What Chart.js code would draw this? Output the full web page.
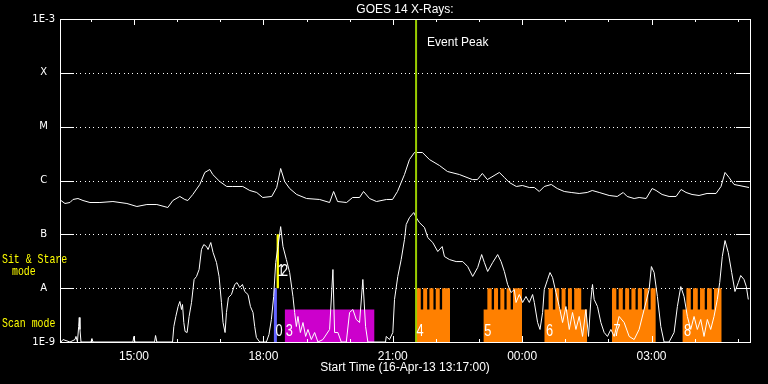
<!DOCTYPE html>
<html>
<head>
<meta charset="utf-8">
<style>
  html, body { margin: 0; padding: 0; background: #000; overflow: hidden; }
  canvas { display: block; }
</style>
<script src="https://cdn.jsdelivr.net/npm/chart.js@4/dist/chart.umd.min.js"></script>
</head>
<body>
<canvas id="c" width="768" height="384"></canvas>
<script>
// ---------- DATA ----------
const chartTitle = 'GOES 14 X-Rays:';
const xAxisTitle = 'Start Time (16-Apr-13 13:17:00)';
const timeStart = 13.2833;   // 16-Apr-13 13:17 (hours of day)
const timeEnd = 29.2833;     // 17-Apr-13 05:17

const xHourTicks = [14,15,16,17,18,19,20,21,22,23,24,25,26,27,28,29];
const xTickValues = [15, 18, 21, 24, 27];
const xTickLabels = ['15:00', '18:00', '21:00', '00:00', '03:00'];

const yTickValues = [1e-9, 1e-8, 1e-7, 1e-6, 1e-5, 1e-4, 1e-3];
const yTickLabels = ['1E-9', 'A', 'B', 'C', 'M', 'X', '1E-3'];

// GOES 1-8 A channel
const goesLongTimes = [13.306,13.399,13.515,13.584,13.700,13.816,13.978,14.209,14.511,14.835,
  15.066,15.298,15.529,15.784,15.900,16.062,16.177,16.247,16.363,16.525,
  16.641,16.757,16.826,16.988,17.150,17.289,17.521,17.683,17.845,17.984,
  18.192,18.308,18.400,18.493,18.609,18.771,19.002,19.303,19.535,19.628,
  19.720,19.929,20.068,20.230,20.322,20.461,20.623,20.855,20.994,21.109,
  21.271,21.387,21.503,21.688,21.850,22.082,22.267,22.545,22.846,22.962,
  23.077,23.193,23.471,23.587,23.703,23.865,24.004,24.166,24.282,24.397,
  24.513,24.675,24.814,24.976,25.138,25.323,25.509,25.625,25.787,26.018,
  26.204,26.343,26.435,26.597,26.713,26.875,27.014,27.106,27.245,27.407,
  27.569,27.685,27.800,27.939,28.102,28.287,28.496,28.611,28.704,28.797,
  28.913,29.028,29.144,29.260];
const goesLongFlux = [4.25e-7,3.74e-7,3.90e-7,4.44e-7,4.63e-7,4.25e-7,3.90e-7,3.90e-7,4.07e-7,3.74e-7,
  3.29e-7,3.58e-7,3.58e-7,3.15e-7,4.25e-7,5.05e-7,4.44e-7,4.25e-7,5.50e-7,8.43e-7,
  1.41e-6,1.60e-6,1.29e-6,9.58e-7,7.74e-7,7.74e-7,7.74e-7,6.52e-7,5.99e-7,4.83e-7,
  5.05e-7,7.41e-7,1.67e-6,9.58e-7,7.10e-7,5.50e-7,4.63e-7,4.44e-7,3.90e-7,6.25e-7,
  4.07e-7,3.90e-7,4.83e-7,4.83e-7,6.25e-7,4.63e-7,4.07e-7,4.44e-7,4.44e-7,6.25e-7,
  1.29e-6,2.45e-6,3.31e-6,3.31e-6,2.45e-6,1.90e-6,1.47e-6,1.29e-6,1.04e-6,1.04e-6,
  1.35e-6,1.04e-6,1.41e-6,1.14e-6,9.18e-7,7.74e-7,8.08e-7,7.41e-7,7.41e-7,6.25e-7,
  7.74e-7,8.43e-7,7.10e-7,6.25e-7,5.99e-7,5.74e-7,5.99e-7,6.52e-7,5.99e-7,5.27e-7,
  5.05e-7,5.99e-7,5.05e-7,4.63e-7,4.83e-7,4.63e-7,7.10e-7,6.52e-7,5.50e-7,5.05e-7,
  5.05e-7,6.81e-7,5.99e-7,5.50e-7,5.27e-7,5.74e-7,5.74e-7,7.74e-7,1.41e-6,1.14e-6,
  8.43e-7,8.08e-7,7.74e-7,7.41e-7];

// GOES 0.5-4 A channel
const goesShortTimes = [13.306,13.353,13.515,13.631,13.654,13.688,13.716,13.730,13.746,13.770,
  14.001,14.024,14.047,14.974,14.997,15.020,15.476,15.499,15.529,15.893,
  15.923,15.969,16.022,16.062,16.101,16.124,16.154,16.184,16.231,16.277,
  16.333,16.393,16.449,16.509,16.564,16.618,16.680,16.717,16.780,16.833,
  16.912,16.972,17.027,17.064,17.111,17.143,17.189,17.259,17.335,17.389,
  17.451,17.514,17.567,17.643,17.699,17.759,17.798,17.838,17.914,18.069,
  18.129,18.185,18.238,18.285,18.338,18.400,18.454,18.532,18.609,18.685,
  18.724,18.764,18.801,18.857,18.917,18.979,19.033,19.111,19.188,19.264,
  19.380,19.535,19.612,19.651,19.727,19.806,19.922,19.998,20.075,20.153,
  20.230,20.306,20.369,20.422,20.832,20.848,20.924,21.001,21.040,21.116,
  21.195,21.271,21.311,21.387,21.487,21.542,21.619,21.735,21.811,21.927,
  22.043,22.145,22.198,22.314,22.469,22.622,22.737,22.853,22.969,23.061,
  23.124,23.200,23.316,23.432,23.511,23.587,23.663,23.742,23.818,23.858,
  23.934,24.011,24.089,24.166,24.242,24.282,24.358,24.414,24.474,24.513,
  24.590,24.645,24.705,24.784,24.860,24.937,25.015,25.092,25.168,25.247,
  25.323,25.400,25.478,25.539,25.594,25.631,25.670,25.747,25.825,25.902,
  25.978,26.057,26.133,26.249,26.365,26.481,26.597,26.712,26.944,26.997,
  27.060,27.136,27.215,27.291,27.407,27.523,27.599,27.678,27.754,27.831,
  27.909,27.986,28.062,28.141,28.217,28.294,28.372,28.449,28.525,28.581,
  28.641,28.704,28.780,28.859,28.935,29.012,29.068,29.144,29.198,29.244];
const goesShortFlux = [1e-9,1.11e-9,1e-9,1.11e-9,1.27e-9,1e-9,1.94e-9,2.85e-9,1.71e-9,1e-9,
  1e-9,1.16e-9,1e-9,1e-9,1.27e-9,1e-9,1e-9,1.32e-9,1e-9,1e-9,
  1.94e-9,2.98e-9,4.56e-9,5.65e-9,4.02e-9,4.97e-9,2.30e-9,1.57e-9,1.50e-9,2.98e-9,
  5.42e-9,1.45e-8,1.65e-8,2.22e-8,5.22e-8,6.46e-8,5.93e-8,5.22e-8,7.04e-8,4.59e-8,
  2.99e-8,1.65e-8,5.42e-9,2.30e-9,1.50e-9,3.53e-9,6.71e-9,7.62e-9,1.17e-8,1.27e-8,
  1.03e-8,1.17e-8,8.67e-9,7.62e-9,4.56e-9,3.53e-9,1.94e-9,1.21e-9,1e-9,1e-9,
  1.38e-9,2.62e-9,7.00e-9,2.99e-8,5.93e-8,1.39e-7,5.93e-8,3.40e-8,1.95e-8,7.00e-9,
  3.53e-9,1.94e-9,2.98e-9,1.50e-9,2.30e-9,1.27e-9,1.71e-9,1.11e-9,1.50e-9,1e-9,
  1.11e-9,1.71e-9,2.22e-8,1.50e-9,1.50e-9,1e-9,1e-9,3.53e-9,4.02e-9,2.62e-9,
  2.30e-9,1.45e-8,1.94e-9,1e-9,1e-9,1.27e-9,1.11e-9,1.50e-9,6.16e-9,1.65e-8,
  3.40e-8,8.00e-8,1.52e-7,2.05e-7,2.54e-7,2.05e-7,1.65e-7,1.34e-7,8.71e-8,7.04e-8,
  4.79e-8,5.93e-8,3.87e-8,3.40e-8,3.12e-8,3.12e-8,2.52e-8,1.65e-8,2.42e-8,4.21e-8,
  2.99e-8,2.04e-8,2.99e-8,4.21e-8,3.12e-8,2.04e-8,1.17e-8,8.30e-9,9.44e-9,5.42e-9,
  7.62e-9,5.42e-9,7.00e-9,5.42e-9,7.62e-9,5.42e-9,2.30e-9,1.71e-9,3.53e-9,9.44e-9,
  1.45e-8,1.95e-8,1.58e-8,8.30e-9,4.56e-9,2.30e-9,4.56e-9,1.71e-9,3.53e-9,1.71e-9,
  2.98e-9,1.27e-9,4.02e-9,1.27e-9,6.16e-9,1.17e-8,6.16e-9,4.56e-9,2.30e-9,1.50e-9,
  1.27e-9,1.71e-9,1.27e-9,2.98e-9,2.30e-9,1.27e-9,1.11e-9,1.71e-9,9.44e-9,2.52e-8,
  1.95e-8,7.00e-9,1.94e-9,1e-9,1e-9,1.50e-9,4.56e-9,1.07e-8,7.00e-9,2.98e-9,
  1.71e-9,2.98e-9,1.71e-9,2.62e-9,1.27e-9,2.62e-9,1.71e-9,2.98e-9,6.16e-9,1.27e-8,
  3.87e-8,7.67e-8,4.59e-8,1.95e-8,8.67e-9,1.27e-8,1.72e-8,1.45e-8,1.07e-8,6.16e-9];

const eventPeakTime = 21.54;
const eventPeakLabel = 'Event Peak';

// IRIS-style observing blocks (time in hours, levels in flux units)
const fluxFloor = 1e-9;
const rasterLevel = 1e-8;
const scanBodyLevel = 4e-9;
const sitStareTop = 1e-7;

const scanBodyStart  = [21.540, 23.101, 24.513, 26.080, 27.715];
const scanTeethStart = [21.540, 23.193, 24.613, 26.080, 27.808];
const scanTeethEnd   = [22.329, 23.997, 25.370, 27.099, 28.627];
const scanBodyEnd    = [22.329, 23.997, 25.509, 27.099, 28.627];
const scanNotches = [
  [[21.649,21.705],[21.797,21.850],[21.943,21.996],[22.089,22.144]],
  [[23.293,23.348],[23.441,23.494],[23.587,23.640],[23.733,23.788]],
  [[24.712,24.768],[24.861,24.914],[25.006,25.062],[25.154,25.207]],
  [[26.184,26.238],[26.333,26.388],[26.481,26.534],[26.629,26.682],[26.777,26.830],[26.925,26.979]],
  [[27.910,27.963],[28.072,28.125],[28.234,28.287],[28.396,28.449]]
];

const modeBarStart = [18.238, 18.301, 18.493];
const modeBarEnd   = [18.314, 18.361, 20.577];
const modeBarLow   = [1e-9, 1e-8, 1e-9];
const modeBarHigh  = [1e-8, 1e-7, 4e-9];

const modeLabelText = ['0','1','2','3','4','5','6','7','8'];
const modeLabelTime = [18.361, 18.407, 18.493, 18.602, 21.630, 23.205, 24.636, 26.203, 27.836];
const modeLabelFlux = [1.53e-9, 2.07e-8, 2.07e-8, 1.53e-9, 1.53e-9, 1.53e-9, 1.53e-9, 1.53e-9, 1.53e-9];

const sideLabels = ['Sit & Stare', 'mode', 'Scan mode'];

// ---------- STYLES ----------
const COL_ORANGE = '#ff8000';
const modeBarColors = ['#6464ff', '#ffff00', '#cc00cc'];
const COL_PEAK = '#99cc00';

function combPoints(i) {
  const pts = [
    {x: scanBodyStart[i], y: fluxFloor},
    {x: scanBodyStart[i], y: scanBodyLevel},
    {x: scanTeethStart[i], y: scanBodyLevel},
    {x: scanTeethStart[i], y: rasterLevel}
  ];
  for (const [a, b] of scanNotches[i]) {
    pts.push({x: a, y: rasterLevel}, {x: a, y: scanBodyLevel}, {x: b, y: scanBodyLevel}, {x: b, y: rasterLevel});
  }
  pts.push({x: scanTeethEnd[i], y: rasterLevel}, {x: scanTeethEnd[i], y: scanBodyLevel},
           {x: scanBodyEnd[i], y: scanBodyLevel}, {x: scanBodyEnd[i], y: fluxFloor});
  return pts;
}

const datasets = [];
datasets.push({
  data: [{x: eventPeakTime, y: 1e-9}, {x: eventPeakTime, y: 1e-3}],
  borderColor: COL_PEAK, borderWidth: 2, pointRadius: 0, fill: false
});
datasets.push({
  data: goesLongTimes.map((t, i) => ({x: t, y: goesLongFlux[i]})),
  borderColor: '#ffffff', borderWidth: 1, pointRadius: 0, fill: false, tension: 0
});
datasets.push({
  data: goesShortTimes.map((t, i) => ({x: t, y: goesShortFlux[i]})),
  borderColor: '#ffffff', borderWidth: 1, pointRadius: 0, fill: false, tension: 0
});
for (let i = 0; i < scanBodyStart.length; i++) {
  datasets.push({
    data: combPoints(i), borderColor: 'rgba(0,0,0,0)', borderWidth: 0, pointRadius: 0,
    backgroundColor: COL_ORANGE, fill: 'start'
  });
}
for (let i = 0; i < modeBarStart.length; i++) {
  datasets.push({
    data: [{x: modeBarStart[i], y: modeBarLow[i]}, {x: modeBarStart[i], y: modeBarHigh[i]},
           {x: modeBarEnd[i], y: modeBarHigh[i]}, {x: modeBarEnd[i], y: modeBarLow[i]}],
    borderColor: 'rgba(0,0,0,0)', borderWidth: 0, pointRadius: 0,
    backgroundColor: modeBarColors[i], fill: {value: modeBarLow[i]}
  });
}

function drawText(ctx, s, x, y, font, color, align, sx) {
  ctx.save();
  ctx.font = font; ctx.fillStyle = color; ctx.textAlign = align; ctx.textBaseline = 'middle';
  ctx.translate(x, y); ctx.scale(sx, 1);
  ctx.fillText(s, 0, 0);
  ctx.restore();
}

const decor = {
  id: 'decor',
  beforeDraw(chart) {
    const c = chart.ctx; c.save(); c.fillStyle = '#000'; c.fillRect(0, 0, chart.width, chart.height); c.restore();
  },
  beforeDatasetsDraw(chart) {
    const {ctx, chartArea: a, scales: {y}} = chart;
    ctx.save();
    ctx.fillStyle = '#ffffff';
    for (const v of yTickValues.slice(1, -1)) {
      const py = Math.round(y.getPixelForValue(v));
      for (let px = a.left + 16; px < a.right - 15; px += 4.33) ctx.fillRect(Math.round(px), py, 1, 1);
    }
    ctx.restore();
  },
  afterDatasetsDraw(chart) {
    const {ctx, chartArea: a, scales: {x, y}} = chart;
    ctx.save();
    ctx.fillStyle = '#ffffff';
    ctx.strokeStyle = '#ffffff';
    ctx.lineWidth = 1;
    ctx.strokeRect(a.left + 0.5, a.top + 0.5, a.right - a.left, a.bottom - a.top);
    for (const v of yTickValues) {
      const py = Math.round(y.getPixelForValue(v));
      ctx.fillRect(a.left, py, 14, 1);
      ctx.fillRect(a.right - 14, py, 15, 1);
    }
    for (const h of xHourTicks) {
      const px = Math.round(x.getPixelForValue(h));
      const len = xTickValues.includes(h) ? 6 : 3;
      ctx.fillRect(px, a.top, 1, len);
      ctx.fillRect(px, a.bottom - len, 1, len + 1);
    }
    ctx.restore();

    const peakX = x.getPixelForValue(eventPeakTime);
    drawText(ctx, eventPeakLabel, peakX + 11, a.top + 24, '12px "Liberation Sans"', '#ffffff', 'left', 1);

    for (let i = 0; i < modeLabelText.length; i++) {
      drawText(ctx, modeLabelText[i], x.getPixelForValue(modeLabelTime[i]), y.getPixelForValue(modeLabelFlux[i]),
        '16px "Liberation Sans"', '#ffffff', 'center', 0.8);
    }

    const yA = y.getPixelForValue(rasterLevel);
    drawText(ctx, sideLabels[0], 2, yA - 29, '13px "Liberation Mono"', '#ffff00', 'left', 0.76);
    drawText(ctx, sideLabels[1], 12, yA - 17, '13px "Liberation Mono"', '#ffff00', 'left', 0.76);
    drawText(ctx, sideLabels[2], 2, yA + 35, '13px "Liberation Mono"', '#ffff00', 'left', 0.76);
  }
};

new Chart(document.getElementById('c').getContext('2d'), {
  type: 'line',
  data: { datasets },
  plugins: [decor],
  options: {
    responsive: false,
    animation: false,
    devicePixelRatio: 1,
    events: [],
    layout: { padding: { top: 0, right: 18, left: 0, bottom: 0 } },
    plugins: {
      legend: { display: false },
      tooltip: { enabled: false },
      title: {
        display: true, text: chartTitle, color: '#ffffff', fullSize: false,
        font: { family: 'Liberation Sans', size: 12, weight: 'normal', lineHeight: 1.2 },
        padding: { top: 2, bottom: 2.6 }
      }
    },
    scales: {
      x: {
        type: 'linear', min: timeStart, max: timeEnd,
        afterBuildTicks: s => { s.ticks = xHourTicks.map(v => ({ value: v })); },
        afterFit: s => { s.height = 42; },
        grid: { display: false, drawTicks: false },
        border: { display: false },
        ticks: {
          color: '#ffffff', autoSkip: false, maxRotation: 0, padding: 7,
          font: { family: 'Liberation Sans', size: 12 },
          callback: v => { const i = xTickValues.indexOf(v); return i >= 0 ? xTickLabels[i] : ''; }
        },
        title: {
          display: true, text: xAxisTitle, color: '#ffffff',
          font: { family: 'Liberation Sans', size: 12, lineHeight: 1.2 },
          padding: { top: 0, bottom: 9 }
        }
      },
      y: {
        type: 'logarithmic', min: 1e-9, max: 1e-3,
        afterBuildTicks: s => { s.ticks = yTickValues.map(v => ({ value: v })); },
        afterFit: s => { s.width = 60; },
        grid: { display: false, drawTicks: false },
        border: { display: false },
        ticks: {
          color: '#ffffff', autoSkip: false, padding: 5, crossAlign: 'center',
          font: { family: 'DejaVu Sans', size: 10 },
          callback: (v, i) => yTickLabels[i]
        }
      }
    }
  }
});
</script>
</body>
</html>
